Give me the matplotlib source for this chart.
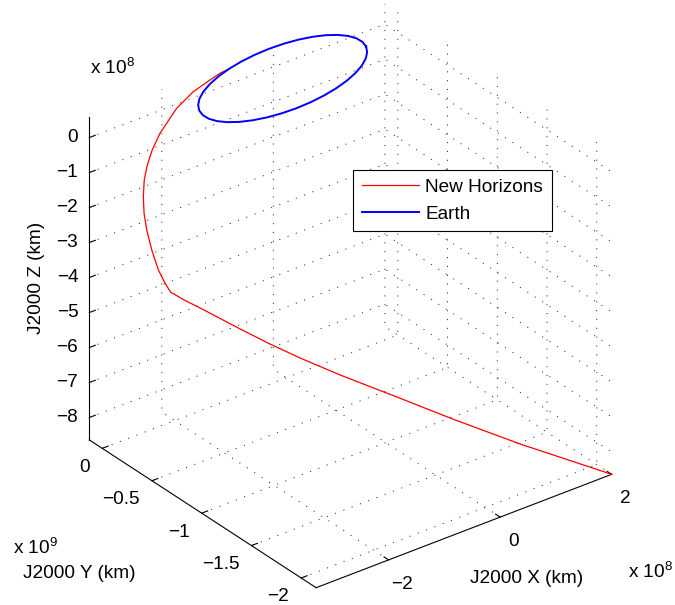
import matplotlib
matplotlib.use('Agg')
import numpy as np
import matplotlib.pyplot as plt
from mpl_toolkits.mplot3d import proj3d

plt.rcParams['font.family'] = ['Liberation Sans', 'DejaVu Sans']
plt.rcParams['mathtext.default'] = 'regular'

# New Horizons track: x and z in 1e8 km, y in 1e9 km
nh_x = [-0.813, -0.987, -1.187, -1.525, -1.898, -2.334, -2.574, -2.758, -2.915,
        -3.051, -3.162, -3.244, -3.290, -3.295, -3.300, -3.300, -3.182, -3.010,
        -2.636, -2.237, -1.866, -1.386, -0.691, 0.001, 0.828, 2.0]
nh_y = [0.1189, 0.1134, 0.1016, 0.0798, 0.0377, -0.0389, -0.0953, -0.1493, -0.2062,
        -0.2735, -0.3429, -0.4159, -0.4922, -0.5614, -0.6316, -0.6889, -0.7666, -0.8211,
        -0.9458, -1.0743, -1.1849, -1.3180, -1.4981, -1.6793, -1.8863, -2.15]
nh_z = [0.465, 0.454, 0.406, 0.319, 0.151, -0.155, -0.381, -0.597, -0.825,
        -1.094, -1.372, -1.664, -2.066, -2.506, -2.753, -2.904, -3.066, -3.284,
        -3.783, -4.297, -4.740, -5.272, -5.992, -6.717, -7.545, -8.64]

# Earth orbit: x and z in 1e8 km, y in 1e9 km
earth_x = [1.431, 1.408, 1.341, 1.231, 1.081, 0.897, 0.683, 0.447, 0.195, -0.065,
           -0.325, -0.577, -0.813, -1.027, -1.211, -1.361, -1.471, -1.538, -1.561,
           -1.538, -1.471, -1.361, -1.211, -1.027, -0.813, -0.577, -0.325, -0.065,
           0.195, 0.447, 0.683, 0.897, 1.081, 1.231, 1.341, 1.408, 1.431]
earth_y = [0.0, 0.0238, 0.0469, 0.0686, 0.0882, 0.1051, 0.1189, 0.1290, 0.1352, 0.1373,
           0.1352, 0.1290, 0.1189, 0.1051, 0.0882, 0.0686, 0.0469, 0.0238, 0.0,
           -0.0238, -0.0469, -0.0686, -0.0882, -0.1051, -0.1189, -0.1290, -0.1352, -0.1373,
           -0.1352, -0.1290, -0.1189, -0.1051, -0.0882, -0.0686, -0.0469, -0.0238, 0.0]
earth_z = [-0.050, 0.053, 0.154, 0.248, 0.333, 0.406, 0.465, 0.509, 0.536, 0.545,
           0.536, 0.509, 0.465, 0.406, 0.333, 0.248, 0.154, 0.053, -0.050,
           -0.153, -0.254, -0.348, -0.433, -0.506, -0.565, -0.609, -0.636, -0.645,
           -0.636, -0.609, -0.565, -0.506, -0.433, -0.348, -0.254, -0.153, -0.050]

x_ticks = [-2, 0, 2]
x_tick_labels = ['\u22122', '0', '2']
y_ticks = [-2, -1.5, -1, -0.5, 0]
y_tick_labels = ['\u22122', '\u22121.5', '\u22121', '\u22120.5', '0']
z_ticks = [-8, -7, -6, -5, -4, -3, -2, -1, 0]
z_tick_labels = ['\u22128', '\u22127', '\u22126', '\u22125', '\u22124', '\u22123', '\u22122', '\u22121', '0']

x_lim = (-3.3, 2.0)
y_lim = (-2.15, 0.13)
z_lim = (-8.64, 0.58)

W, H = 675, 605
fs = 13.7

fig = plt.figure(figsize=(W / 100, H / 100), dpi=100)
ax = fig.add_axes([0, 0, 1, 1], projection='3d', proj_type='ortho')
ax.view_init(elev=30, azim=-127.5)
ax.set_box_aspect((1, 1, 1))
ax.computed_zorder = False

ax.plot(nh_x, nh_y, nh_z, color='r', lw=0.9, label='New Horizons', zorder=2)
ax.plot(earth_x, earth_y, earth_z, color='b', lw=1.4, label='Earth', zorder=3)

ax.set_xlim(x_lim)
ax.set_ylim(y_lim)
ax.set_zlim(z_lim)
ax.set_xticks(x_ticks)
ax.set_yticks(y_ticks)
ax.set_zticks(z_ticks)
ax.set_xticklabels([])
ax.set_yticklabels([])
ax.set_zticklabels([])

for axis in (ax.xaxis, ax.yaxis, ax.zaxis):
    axis.set_pane_color((1, 1, 1, 0))
    axis._axinfo['grid'].update(color='0.1', linewidth=0.65, linestyle=(0, (1.2, 8.6)))
    axis._axinfo['tick']['inward_factor'] = 0.0
    axis._axinfo['tick']['outward_factor'] = 0.25
    axis.line.set_color('k')
    axis.line.set_linewidth(0.8)
ax.grid(True)

leg = ax.legend(loc='upper left', bbox_to_anchor=(353 / W, 1 - 170 / H),
                bbox_transform=fig.transFigure, fontsize=fs, fancybox=False,
                framealpha=1, edgecolor='k', handlelength=3.0, handletextpad=0.35,
                borderpad=0.45, labelspacing=0.5, borderaxespad=0)
leg.get_frame().set_linewidth(0.8)

# place the box so its corners land where the reference has them
lo = (x_lim[0], y_lim[0], z_lim[0])
hi = (x_lim[1], y_lim[1], z_lim[1])
t_lo = np.array([316.0, H - 587.7])
t_hi = np.array([385.0, H - 3.9])


def project(pt):
    xs, ys, _ = proj3d.proj_transform(pt[0], pt[1], pt[2], ax.get_proj())
    return ax.transData.transform((xs, ys))


fig.canvas.draw()
s = np.linalg.norm(t_hi - t_lo) / np.linalg.norm(project(hi) - project(lo))
ax.set_box_aspect((1, 1, 1), zoom=s)
fig.canvas.draw()
shift = (t_lo + t_hi) / 2 - (project(lo) + project(hi)) / 2
ax.set_position([shift[0] / W, shift[1] / H, 1, 1])
fig.canvas.draw()

# tick labels, placed MATLAB-style next to the projected tick points
for v, lab in zip(z_ticks, z_tick_labels):
    p = project((x_lim[0], y_lim[1], v))
    fig.text((p[0] - 11) / W, (p[1] - 4.8) / H, lab, ha='right', va='baseline', fontsize=fs)
for v, lab in zip(y_ticks, y_tick_labels):
    p = project((x_lim[0], v, z_lim[0]))
    fig.text((p[0] - 12) / W, (p[1] - 23.5) / H, lab, ha='right', va='baseline', fontsize=fs)
for v, lab in zip(x_ticks, x_tick_labels):
    p = project((v, y_lim[0], z_lim[0]))
    fig.text((p[0] + 13.5) / W, (p[1] - 28.8) / H, lab, ha='center', va='baseline', fontsize=fs)

# axis labels and exponents
fig.text(36.5 / W, 1 - 278 / H, 'J2000 Z (km)', rotation=90, ha='center', va='center', fontsize=fs)
fig.text(22.7 / W, 1 - 578.3 / H, 'J2000 Y (km)', ha='left', va='baseline', fontsize=fs)
fig.text(470 / W, 1 - 582.7 / H, 'J2000 X (km)', ha='left', va='baseline', fontsize=fs)
fig.text(12.7 / W, 1 - 553.5 / H, 'x 10$^{9}$', ha='left', va='baseline', fontsize=fs)
fig.text(628.3 / W, 1 - 578 / H, 'x 10$^{8}$', ha='left', va='baseline', fontsize=fs)
fig.text(90 / W, 1 - 74 / H, 'x 10$^{8}$', ha='left', va='baseline', fontsize=fs)

fig.savefig('out.png', dpi=100)
